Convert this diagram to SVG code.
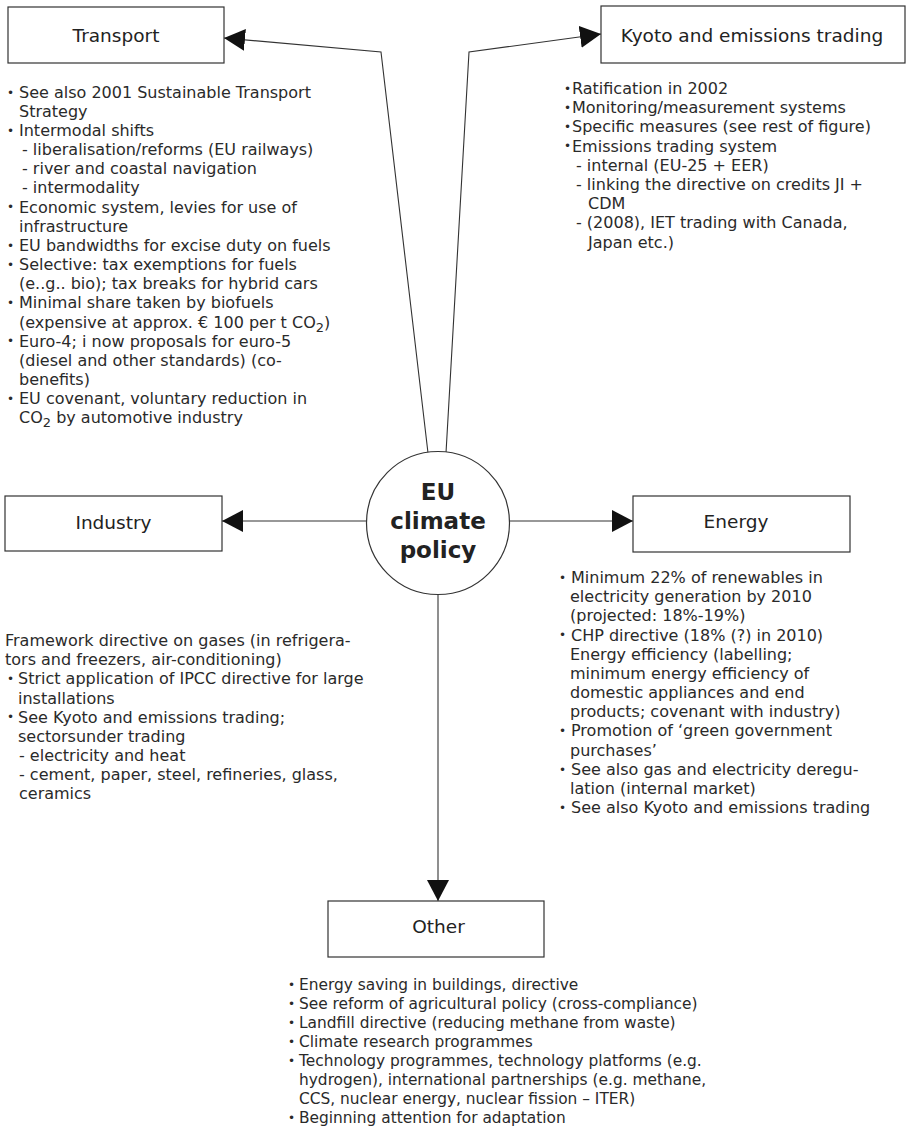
<svg xmlns="http://www.w3.org/2000/svg" width="907" height="1129" viewBox="0 0 907 1129">
<defs>
<marker id="arr" markerUnits="userSpaceOnUse" markerWidth="22" markerHeight="22" refX="21" refY="11" orient="auto">
<path d="M0,0 L21,11 L0,22 z" fill="#111"/>
</marker>
<style>
.box{fill:#fff;stroke:#333;stroke-width:1.2}
.lbl{font-family:"DejaVu Sans",Verdana,sans-serif;font-size:18.5px;fill:#222;text-anchor:middle}
.t{font-family:"DejaVu Sans",Verdana,sans-serif;font-size:16px;fill:#2a2a2a}
.o{font-size:15.4px}
.b{font-size:12px}
.ctr{font-family:"DejaVu Sans","Liberation Sans",sans-serif;font-size:23px;font-weight:bold;fill:#222;text-anchor:middle}
.con{fill:none;stroke:#333;stroke-width:1.1;marker-end:url(#arr)}
</style>
</defs>
<rect width="907" height="1129" fill="#fff"/>

<g id="connectors">
<polyline class="con" points="428,453 381,52 224,38"/>
<polyline class="con" points="446,453 469,52 601,34"/>
<polyline class="con" points="366,521 222,521"/>
<polyline class="con" points="510,521 633,521"/>
<polyline class="con" points="438,594 438,901"/>
</g>

<g id="center">
<circle cx="438" cy="523" r="71.5" fill="#fff" stroke="#333" stroke-width="1.2"/>
<text class="ctr" x="438" y="500">EU</text>
<text class="ctr" x="438" y="529">climate</text>
<text class="ctr" x="438" y="558">policy</text>
</g>

<g id="transport">
<rect class="box" x="8" y="7" width="216" height="56"/>
<text class="lbl" x="116" y="42">Transport</text>
<g class="t">
<text class="b" x="7" y="96.5">•</text><text x="19" y="97.7">See also 2001 Sustainable Transport</text>
<text x="19" y="116.8">Strategy</text>
<text class="b" x="7" y="134.8">•</text><text x="19" y="136">Intermodal shifts</text>
<text x="22" y="155.1">- liberalisation/reforms (EU railways)</text>
<text x="22" y="174.3">- river and coastal navigation</text>
<text x="22" y="193.4">- intermodality</text>
<text class="b" x="7" y="211.4">•</text><text x="19" y="212.6">Economic system, levies for use of</text>
<text x="19" y="231.7">infrastructure</text>
<text class="b" x="7" y="249.7">•</text><text x="19" y="250.9">EU bandwidths for excise duty on fuels</text>
<text class="b" x="7" y="268.8">•</text><text x="19" y="270">Selective: tax exemptions for fuels</text>
<text x="19" y="289.2">(e..g.. bio); tax breaks for hybrid cars</text>
<text class="b" x="7" y="307.1">•</text><text x="19" y="308.3">Minimal share taken by biofuels</text>
<text x="19" y="327.5">(expensive at approx. € 100 per t CO<tspan font-size="13" dy="4">2</tspan><tspan dy="-4">)</tspan></text>
<text class="b" x="7" y="345.4">•</text><text x="19" y="346.6">Euro-4; i now proposals for euro-5</text>
<text x="19" y="365.8">(diesel and other standards) (co-</text>
<text x="19" y="384.9">benefits)</text>
<text class="b" x="7" y="402.9">•</text><text x="19" y="404.1">EU covenant, voluntary reduction in</text>
<text x="19" y="423.2">CO<tspan font-size="13" dy="4">2</tspan><tspan dy="-4"> by automotive industry</tspan></text>
</g>
</g>

<g id="kyoto">
<rect class="box" x="601" y="6" width="304" height="57"/>
<text class="lbl" x="752" y="42">Kyoto and emissions trading</text>
<g class="t">
<text class="b" x="564" y="92.8">•</text><text x="572" y="94">Ratification in 2002</text>
<text class="b" x="564" y="112">•</text><text x="572" y="113.2">Monitoring/measurement systems</text>
<text class="b" x="564" y="131.2">•</text><text x="572" y="132.4">Specific measures (see rest of figure)</text>
<text class="b" x="564" y="150.4">•</text><text x="572" y="151.6">Emissions trading system</text>
<text x="576" y="170.8">- internal (EU-25 + EER)</text>
<text x="576" y="190">- linking the directive on credits JI +</text>
<text x="588" y="209.2">CDM</text>
<text x="576" y="228.4">- (2008), IET trading with Canada,</text>
<text x="588" y="247.6">Japan etc.)</text>
</g>
</g>

<g id="industry">
<rect class="box" x="5" y="496" width="217" height="55"/>
<text class="lbl" x="113.5" y="529">Industry</text>
<g class="t">
<text x="5" y="646">Framework directive on gases (in refrigera-</text>
<text x="5" y="665.2">tors and freezers, air-conditioning)</text>
<text class="b" x="7" y="683.1">•</text><text x="18" y="684.3">Strict application of IPCC directive for large</text>
<text x="18" y="703.5">installations</text>
<text class="b" x="7" y="721.4">•</text><text x="18" y="722.6">See Kyoto and emissions trading;</text>
<text x="18" y="741.8">sectorsunder trading</text>
<text x="19" y="761">- electricity and heat</text>
<text x="19" y="780.1">- cement, paper, steel, refineries, glass,</text>
<text x="19" y="799.2">ceramics</text>
</g>
</g>

<g id="energy">
<rect class="box" x="633" y="496" width="217" height="56"/>
<text class="lbl" x="736" y="528">Energy</text>
<g class="t">
<text class="b" x="559" y="581.8">•</text><text x="571" y="583">Minimum 22% of renewables in</text>
<text x="570" y="602.2">electricity generation by 2010</text>
<text x="570" y="621.3">(projected: 18%-19%)</text>
<text class="b" x="559" y="639.3">•</text><text x="571" y="640.5">CHP directive (18% (?) in 2010)</text>
<text x="570" y="659.7">Energy efficiency (labelling;</text>
<text x="570" y="678.9">minimum energy efficiency of</text>
<text x="570" y="698">domestic appliances and end</text>
<text x="570" y="717.2">products; covenant with industry)</text>
<text class="b" x="559" y="735.2">•</text><text x="571" y="736.4">Promotion of ‘green government</text>
<text x="570" y="755.5">purchases’</text>
<text class="b" x="559" y="773.5">•</text><text x="571" y="774.7">See also gas and electricity deregu-</text>
<text x="570" y="793.9">lation (internal market)</text>
<text class="b" x="559" y="811.8">•</text><text x="571" y="813">See also Kyoto and emissions trading</text>
</g>
</g>

<g id="other">
<rect class="box" x="328" y="901" width="216" height="56"/>
<text class="lbl" x="438.5" y="933">Other</text>
<g class="t o">
<text class="b" x="288" y="989">•</text><text x="299" y="990">Energy saving in buildings, directive</text>
<text class="b" x="288" y="1008">•</text><text x="299" y="1009">See reform of agricultural policy (cross-compliance)</text>
<text class="b" x="288" y="1027">•</text><text x="299" y="1028">Landfill directive (reducing methane from waste)</text>
<text class="b" x="288" y="1046">•</text><text x="299" y="1047">Climate research programmes</text>
<text class="b" x="288" y="1065">•</text><text x="299" y="1066">Technology programmes, technology platforms (e.g.</text>
<text x="299" y="1085">hydrogen), international partnerships (e.g. methane,</text>
<text x="299" y="1104">CCS, nuclear energy, nuclear fission – ITER)</text>
<text class="b" x="288" y="1122">•</text><text x="299" y="1123">Beginning attention for adaptation</text>
</g>
</g>
</svg>
